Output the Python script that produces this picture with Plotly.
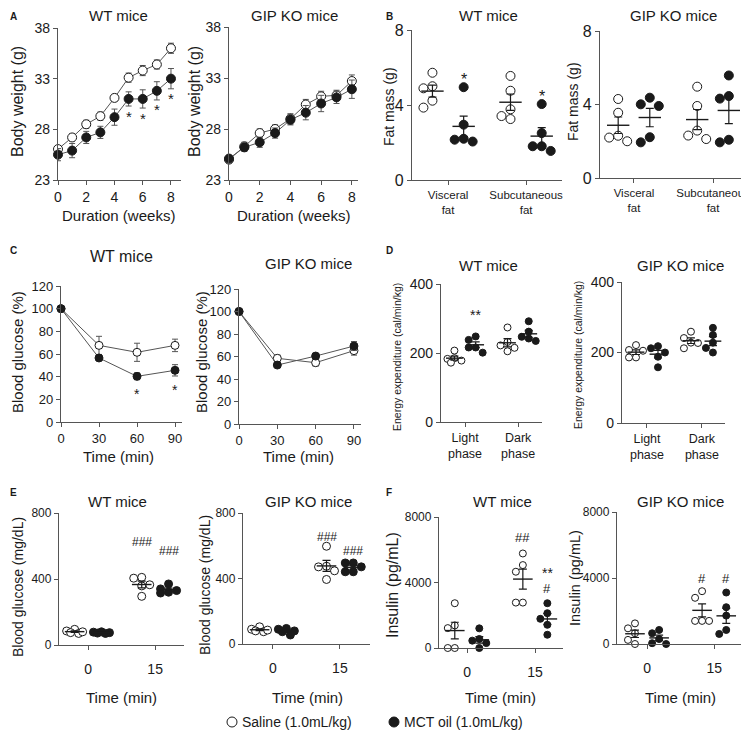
import numpy as np
import plotly.graph_objects as go

# page is 749x738; the browser body keeps an 8px margin, so the figure is 733x722
OFF = 8
FW, FH = 749 - 2 * OFF, 738 - 2 * OFF
FONT = "Arial, 'Liberation Sans', sans-serif"
INK = "#1a1a1a"
AXC = "#555555"

# ---------------- data ----------------
# A: body weight (g) over 8 weeks (mean, SEM)
weeks = [0, 1, 2, 3, 4, 5, 6, 7, 8]
bw_wt_saline = [26.05, 27.2, 28.5, 29.3, 31.1, 33.1, 33.8, 34.4, 36.0]
bw_wt_saline_sem = [0.3, 0.35, 0.4, 0.4, 0.35, 0.45, 0.5, 0.45, 0.5]
bw_wt_mct = [25.5, 25.9, 27.2, 27.7, 29.2, 31.0, 31.0, 31.8, 33.0]
bw_wt_mct_sem = [0.6, 0.7, 0.6, 0.6, 0.8, 0.7, 0.9, 0.9, 1.0]
bw_ko_saline = [25.0, 26.3, 27.6, 28.0, 29.0, 30.4, 31.2, 31.3, 32.7]
bw_ko_saline_sem = [0.3, 0.4, 0.4, 0.4, 0.5, 0.5, 0.5, 0.5, 0.6]
bw_ko_mct = [25.1, 26.2, 26.7, 27.6, 28.9, 29.6, 30.5, 31.1, 31.9]
bw_ko_mct_sem = [0.3, 0.4, 0.5, 0.5, 0.5, 0.7, 0.8, 0.6, 0.9]

# B: fat mass (g), individual mice
fat_labels = ["Visceral<br>fat", "Subcutaneous<br>fat"]
fat_wt_saline = [[5.72, 4.89, 5.0, 3.86, 4.23], [5.55, 4.76, 3.77, 3.41, 3.25]]
fat_wt_mct = [[4.95, 2.95, 2.05, 2.15, 2.2], [4.05, 2.5, 1.8, 1.55, 1.8]]
fat_ko_saline = [[4.3, 3.55, 2.0, 2.2, 2.3], [4.97, 3.92, 2.58, 2.12, 2.31]]
fat_ko_mct = [[4.37, 3.92, 4.01, 1.94, 2.22], [5.58, 4.32, 4.46, 1.94, 2.08]]

# C: insulin tolerance, blood glucose (% of baseline)
itt_time = [0, 30, 60, 90]
itt_wt_saline = [100, 67.6, 61.5, 67.6]
itt_wt_saline_sem = [0, 8, 8, 5.5]
itt_wt_mct = [100, 56.5, 40.3, 45.6]
itt_wt_mct_sem = [0, 2, 3, 5]
itt_ko_saline = [100, 58.4, 54.5, 65.2]
itt_ko_saline_sem = [0, 3, 3, 4]
itt_ko_mct = [100, 52.4, 60.4, 69.3]
itt_ko_mct_sem = [0, 1.5, 2, 4]

# D: energy expenditure (cal/min/kg)
phase_labels = ["Light<br>phase", "Dark<br>phase"]
ee_wt_saline = [[207, 185, 183, 172, 178], [274, 232, 222, 205, 215]]
ee_wt_mct = [[248, 238, 216, 216, 201], [292, 262, 247, 235, 242]]
ee_ko_saline = [[221, 207, 205, 186, 186], [259, 241, 228, 227, 212]]
ee_ko_mct = [[218, 212, 200, 188, 158], [270, 250, 228, 213, 200]]

# E: blood glucose (mg/dL) at 0 and 15 min
time_labels = ["0", "15"]
glu_wt_saline = [[85, 95, 70, 80, 75], [410, 405, 365, 358, 295]]
glu_wt_mct = [[80, 78, 75, 72, 70], [370, 340, 330, 320, 315]]
glu_ko_saline = [[105, 90, 80, 75, 85], [597, 475, 471, 447, 394]]
glu_ko_mct = [[95, 90, 80, 75, 55], [495, 495, 441, 441, 471]]

# F: insulin (pg/mL) at 0 and 15 min
ins_wt_saline = [[2734, 1215, 1377, 0, 0], [5772, 5063, 4658, 2774, 2774]]
ins_wt_mct = [[1200, 550, 450, 300, 0], [2734, 1782, 2126, 1417, 810]]
ins_ko_saline = [[1250, 950, 650, 250, 0], [3200, 2800, 1400, 1400, 1400]]
ins_ko_mct = [[850, 650, 300, 50, 0], [3120, 2230, 1720, 850, 610]]

legend_names = ["Saline (1.0mL/kg)", "MCT oil (1.0mL/kg)"]

# ---------------- figure ----------------
fig = go.Figure()
panels = {}
annotations = []
shapes = []


def fx(px):
    return (px - OFF) / FW


def fy(py):
    return 1 - (py - OFF) / FH


def sfx(i):
    return "" if i == 1 else str(i)


def setup_axes(i, xpx, ypx, xr, yr, xticks, xtext, yticks, xfs, yfs, xstand=0):
    xd = [max(0, fx(xpx[0])), min(1, fx(xpx[1]))]
    yd = [max(0, fy(ypx[1])), min(1, fy(ypx[0]))]
    common = dict(showline=True, linecolor=AXC, linewidth=1.3, ticks="outside",
                  ticklen=4, tickwidth=1.3, tickcolor=AXC, showgrid=False,
                  zeroline=False, fixedrange=True, automargin=False,
                  ticklabeloverflow="allow")
    fig.update_layout(**{
        f"xaxis{sfx(i)}": dict(domain=xd, range=xr, anchor=f"y{sfx(i)}",
                               tickvals=xticks, ticktext=xtext, ticklabelstandoff=xstand,
                               tickfont=dict(family=FONT, size=xfs, color=INK), **common),
        f"yaxis{sfx(i)}": dict(domain=yd, range=yr, anchor=f"x{sfx(i)}",
                               tickvals=yticks,
                               tickfont=dict(family=FONT, size=yfs, color=INK), **common),
    })
    panels[i] = dict(xpp=(xpx[1] - xpx[0]) / (xr[1] - xr[0]),
                     ypp=(ypx[1] - ypx[0]) / (yr[1] - yr[0]))


def line_panel(i, x, s, s_sem, m, m_sem, msize):
    for vals, sem, fill in [(s, s_sem, "white"), (m, m_sem, INK)]:
        fig.add_trace(go.Scatter(
            x=x, y=vals, mode="lines+markers",
            line=dict(color="#555555", width=1),
            marker=dict(size=msize, color=fill, line=dict(color=INK, width=1)),
            error_y=dict(type="data", array=sem, color="#555555", thickness=1, width=3),
            cliponaxis=False, showlegend=False,
            xaxis=f"x{sfx(i)}", yaxis=f"y{sfx(i)}"))


def swarm(vals, info, d):
    """Spread overlapping points sideways (at most one diameter each way)."""
    xpp, ypp = info["xpp"], info["ypp"]
    order = np.argsort(-np.asarray(vals, float), kind="stable")
    placed, offs = [], [0.0] * len(vals)
    cands = [0, -1, 1, -0.5, 0.5]
    for idx in order:
        yp = vals[idx] * ypp
        best, bestd = 0, -1
        for c in cands:
            xp = c * d
            md = min([np.hypot(xp - a, yp - b) for a, b in placed] + [1e9])
            if md >= 0.95 * d:
                best = xp
                break
            if md > bestd:
                best, bestd = xp, md
        placed.append((best, yp))
        offs[idx] = best / xpp
    return offs


def dot_panel(i, sal, mct, off, msize, mw=15):
    info = panels[i]
    centers = {}
    for key, groups, fill, sgn in [("s", sal, "white", -1), ("m", mct, INK, 1)]:
        xs, ys, xc, means, sems = [], [], [], [], []
        for k, vals in enumerate(groups):
            c = k + 1 + sgn * off
            jit = swarm(vals, info, msize)
            xs += [c + j for j in jit]
            ys += list(vals)
            xc.append(c)
            means.append(float(np.mean(vals)))
            sems.append(float(np.std(vals, ddof=1) / np.sqrt(len(vals))))
        centers[key] = xc
        fig.add_trace(go.Scatter(
            x=xs, y=ys, mode="markers",
            marker=dict(size=msize, color=fill, line=dict(color=INK, width=1)),
            cliponaxis=False, showlegend=False,
            xaxis=f"x{sfx(i)}", yaxis=f"y{sfx(i)}"))
        fig.add_trace(go.Scatter(
            x=xc, y=means, mode="markers",
            marker=dict(symbol="line-ew", size=mw, color=INK, line=dict(color=INK, width=1.4)),
            error_y=dict(type="data", array=sems, color=INK, thickness=1.2, width=4),
            cliponaxis=False, showlegend=False,
            xaxis=f"x{sfx(i)}", yaxis=f"y{sfx(i)}"))
    return centers


def sig(i, x, y, text, yshift, size=14):
    annotations.append(dict(text=text, x=x, y=y, xref=f"x{sfx(i)}", yref=f"y{sfx(i)}",
                            showarrow=False, yshift=yshift, xanchor="center", yanchor="middle",
                            font=dict(family=FONT, size=size, color=INK)))


def ann(text, x, y, size, angle=0, bold=False, xanchor="center"):
    annotations.append(dict(text=f"<b>{text}</b>" if bold else text, x=fx(x), y=fy(y),
                            xref="paper", yref="paper", showarrow=False, textangle=angle,
                            xanchor=xanchor, yanchor="middle",
                            font=dict(family=FONT, size=size, color=INK)))


# ---- Panel A ----
setup_axes(1, (58, 181), (28, 180), [0, 8.71], [23, 38], [0, 2, 4, 6, 8], None, [23, 28, 33, 38], 14, 14)
line_panel(1, weeks, bw_wt_saline, bw_wt_saline_sem, bw_wt_mct, bw_wt_mct_sem, 9)
for k in range(5, 9):
    sig(1, weeks[k], bw_wt_mct[k] - bw_wt_mct_sem[k], "*", -10, 15)
setup_axes(2, (229, 358), (27, 180), [0, 8.4], [23, 38], [0, 2, 4, 6, 8], None, [23, 28, 33, 38], 14, 14)
line_panel(2, weeks, bw_ko_saline, bw_ko_saline_sem, bw_ko_mct, bw_ko_mct_sem, 9)

# ---- Panel B ----
setup_axes(3, (412, 562), (30, 180), [0.538, 2.46], [0, 8], [1, 2], fat_labels, [0, 4, 8], 11.5, 16)
cB = dot_panel(3, fat_wt_saline, fat_wt_mct, 0.2, 9, 16)
for k in range(2):
    sig(3, cB["m"][k], max(fat_wt_mct[k]), "*", 8, 16)
setup_axes(4, (600, 741), (31, 178), [0.57, 2.354], [0, 8], [1, 2], fat_labels, [0, 4, 8], 11.5, 16)
dot_panel(4, fat_ko_saline, fat_ko_mct, 0.2, 9, 16)

# ---- Panel C ----
setup_axes(5, (61, 182), (286, 422), [0, 95.5], [0, 120], [0, 30, 60, 90], None, list(range(0, 121, 20)), 13, 13)
line_panel(5, itt_time, itt_wt_saline, itt_wt_saline_sem, itt_wt_mct, itt_wt_mct_sem, 8)
for k in [2, 3]:
    sig(5, itt_time[k], itt_wt_mct[k] - itt_wt_mct_sem[k], "*", -14, 14)
setup_axes(6, (239, 361), (289, 424), [0, 95.5], [0, 120], [0, 30, 60, 90], None, list(range(0, 121, 20)), 13, 13)
line_panel(6, itt_time, itt_ko_saline, itt_ko_saline_sem, itt_ko_mct, itt_ko_mct_sem, 8)

# ---- Panel D ----
setup_axes(7, (441, 542), (284, 422), [0.547, 2.45], [0, 400], [1, 2], phase_labels, [0, 200, 400], 12.5, 14)
cD = dot_panel(7, ee_wt_saline, ee_wt_mct, 0.2, 7, 12)
sig(7, cD["m"][0], max(ee_wt_mct[0]), "**", 21, 14)
setup_axes(8, (622, 725), (282, 423), [0.545, 2.42], [0, 400], [1, 2], phase_labels, [0, 200, 400], 12.5, 14)
dot_panel(8, ee_ko_saline, ee_ko_mct, 0.2, 7, 12)

# ---- Panel E ----
setup_axes(9, (59, 184), (513, 645), [0.567, 2.43], [0, 800], [1, 2], time_labels, [0, 400, 800], 14, 12, 7)
cE = dot_panel(9, glu_wt_saline, glu_wt_mct, 0.2, 8, 14)
sig(9, cE["s"][1], max(glu_wt_saline[1]), "###", 35, 12)
sig(9, cE["m"][1], max(glu_wt_mct[1]), "###", 33, 12)
setup_axes(10, (243, 370), (513, 644), [0.552, 2.45], [0, 800], [1, 2], time_labels, [0, 400, 800], 14, 12, 7)
cE2 = dot_panel(10, glu_ko_saline, glu_ko_mct, 0.2, 8, 14)
sig(10, cE2["s"][1], max(glu_ko_saline[1]), "###", 9, 12)
sig(10, cE2["m"][1], max(glu_ko_mct[1]), "###", 12, 12)

# ---- Panel F ----
setup_axes(11, (439, 563), (517, 648), [0.588, 2.41], [0, 8000], [1, 2], time_labels, [0, 4000, 8000], 14, 12, 7)
cF = dot_panel(11, ins_wt_saline, ins_wt_mct, 0.18, 7, 14)
sig(11, cF["s"][1], max(ins_wt_saline[1]), "##", 16, 13)
sig(11, cF["m"][1], max(ins_wt_mct[1]), "**", 30, 14)
sig(11, cF["m"][1], max(ins_wt_mct[1]), "#", 15, 13)
setup_axes(12, (617, 741), (512, 644), [0.552, 2.4], [0, 8000], [1, 2], time_labels, [0, 4000, 8000], 14, 12, 7)
cF2 = dot_panel(12, ins_ko_saline, ins_ko_mct, 0.18, 7, 14)
sig(12, cF2["s"][1], max(ins_ko_saline[1]), "#", 13, 13)
sig(12, cF2["m"][1], max(ins_ko_mct[1]), "#", 14, 13)

# ---- text ----
for t, x, y, s in [("WT mice", 118, 15, 15), ("GIP KO mice", 294, 15, 15),
                   ("WT mice", 488, 15, 15), ("GIP KO mice", 673, 15, 15),
                   ("WT mice", 121, 257, 16), ("GIP KO mice", 308, 263, 15),
                   ("WT mice", 488, 265, 15), ("GIP KO mice", 680, 265, 15),
                   ("WT mice", 117, 501, 15), ("GIP KO mice", 308, 501, 15),
                   ("WT mice", 502, 501, 15), ("GIP KO mice", 680, 501, 15)]:
    ann(t, x, y, s)

for t, x, y, s in [("Body weight (g)", 18, 102, 16), ("Body weight (g)", 195, 102, 16),
                   ("Fat mass (g)", 389, 107, 14), ("Fat mass (g)", 573, 102, 14),
                   ("Blood glucose (%)", 17, 352, 15), ("Blood glucose (%)", 201, 352, 15),
                   ("Energy expenditure (cal/min/kg)", 397, 357, 10.5),
                   ("Energy expenditure (cal/min/kg)", 578, 355, 10.5),
                   ("Blood glucose (mg/dL)", 18, 587, 14), ("Blood glucose (mg/dL)", 205, 585, 14),
                   ("Insulin (pg/mL)", 392, 585, 16), ("Insulin (pg/mL)", 575, 578, 14.5)]:
    ann(t, x, y, s, angle=-90)

for t, x, y in [("Duration (weeks)", 118, 215), ("Duration (weeks)", 293, 215),
                ("Time (min)", 119, 457), ("Time (min)", 298, 457),
                ("Time (min)", 122, 697), ("Time (min)", 307, 697),
                ("Time (min)", 500, 697), ("Time (min)", 680, 697)]:
    ann(t, x, y, 15)

for t, x, y in [("A", 13, 16), ("B", 389, 16), ("C", 13, 250), ("D", 389, 250), ("E", 13, 492), ("F", 389, 492)]:
    ann(t, x, y, 10, bold=True)

# ---- legend (drawn as swatches + labels so it cannot push the margins) ----
for name, fill, sx in [(legend_names[0], "white", 232), (legend_names[1], INK, 394)]:
    shapes.append(dict(type="circle", xref="paper", yref="paper",
                       xsizemode="pixel", ysizemode="pixel",
                       xanchor=fx(sx), yanchor=fy(722), x0=-5, x1=5, y0=-5, y1=5,
                       line=dict(color=INK, width=1), fillcolor=fill))
    ann(name, sx + 8, 722, 14, xanchor="left")

fig.update_layout(
    width=FW, height=FH, margin=dict(l=0, r=0, t=0, b=0, autoexpand=False),
    paper_bgcolor="white", plot_bgcolor="white",
    font=dict(family=FONT, color=INK),
    annotations=annotations, shapes=shapes,
    showlegend=False,
)

fig.write_html("out.html", config={"displayModeBar": False})
